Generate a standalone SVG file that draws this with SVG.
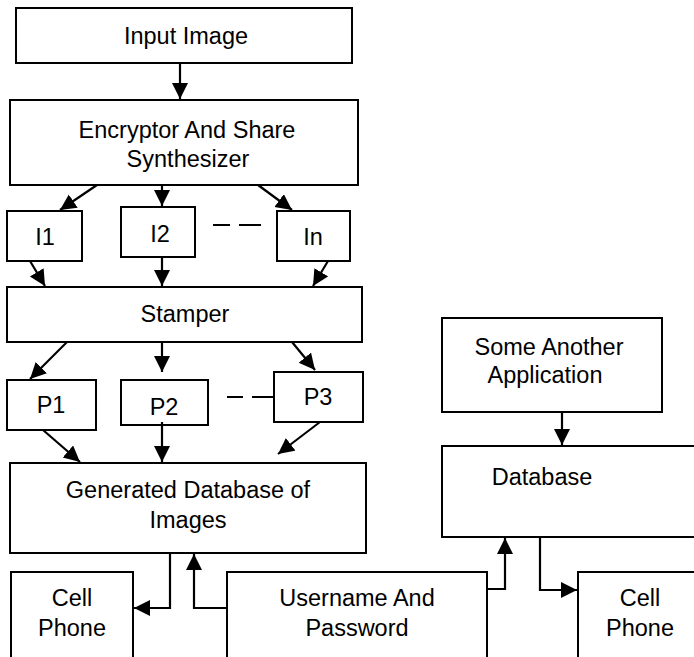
<svg xmlns="http://www.w3.org/2000/svg" width="694" height="657" viewBox="0 0 694 657">
<defs>
<style>
.box{fill:#fff;stroke:#000;stroke-width:2}
.t{font-family:"Liberation Sans",Arial,sans-serif;font-size:23.5px;fill:#000;text-anchor:middle}
.c{fill:none;stroke:#000;stroke-width:2.2}
.d{fill:none;stroke:#000;stroke-width:2}
</style>
<marker id="ah" markerUnits="userSpaceOnUse" markerWidth="18" markerHeight="17" refX="16" refY="8" orient="auto">
<path d="M0,0 L16,8 L0,16 z" fill="#000"/>
</marker>
</defs>
<rect width="694" height="657" fill="#fff"/>
<g id="input-image"><rect class="box" x="16" y="8" width="336" height="55"/><text class="t" x="186" y="44">Input Image</text></g>
<g id="encryptor"><rect class="box" x="10" y="100" width="348" height="85"/><text class="t" x="187" y="138">Encryptor And Share</text><text class="t" x="188" y="167">Synthesizer</text></g>
<g id="i1"><rect class="box" x="7" y="211" width="75" height="50"/><text class="t" x="45" y="245">I1</text></g>
<g id="i2"><rect class="box" x="121" y="207" width="74" height="50"/><text class="t" x="160" y="242">I2</text></g>
<g id="in"><rect class="box" x="277" y="211" width="73" height="50"/><text class="t" x="313" y="245">In</text></g>
<g id="stamper"><rect class="box" x="7" y="287" width="355" height="55"/><text class="t" x="185" y="322">Stamper</text></g>
<g id="p1"><rect class="box" x="7" y="380" width="89" height="50"/><text class="t" x="51" y="413">P1</text></g>
<g id="p2"><rect class="box" x="121" y="380" width="87" height="45"/><text class="t" x="164" y="415">P2</text></g>
<g id="p3"><rect class="box" x="274" y="372" width="89" height="50"/><text class="t" x="318" y="405">P3</text></g>
<g id="generated-db"><rect class="box" x="10" y="463" width="356" height="90"/><text class="t" x="188" y="498">Generated Database of</text><text class="t" x="188" y="528">Images</text></g>
<g id="cell-phone-left"><rect class="box" x="11" y="572" width="122" height="100"/><text class="t" x="72" y="606">Cell</text><text class="t" x="72" y="636">Phone</text></g>
<g id="username"><rect class="box" x="227" y="572" width="260" height="100"/><text class="t" x="357" y="606">Username And</text><text class="t" x="357" y="636">Password</text></g>
<g id="some-another-app"><rect class="box" x="442" y="318" width="220" height="94"/><text class="t" x="549" y="355">Some Another</text><text class="t" x="545" y="383">Application</text></g>
<g id="database"><rect class="box" x="442" y="446" width="270" height="91"/><text class="t" x="542" y="485">Database</text></g>
<g id="cell-phone-right"><rect class="box" x="578" y="572" width="130" height="100"/><text class="t" x="640" y="606">Cell</text><text class="t" x="640" y="636">Phone</text></g>
<g id="connectors">
<line class="c" x1="180" y1="63" x2="180" y2="99" marker-end="url(#ah)"/>
<line class="c" x1="97" y1="185" x2="60" y2="210" marker-end="url(#ah)"/>
<line class="c" x1="162" y1="185" x2="162" y2="206" marker-end="url(#ah)"/>
<line class="c" x1="258" y1="185" x2="292" y2="210" marker-end="url(#ah)"/>
<line class="c" x1="30" y1="261" x2="45" y2="286" marker-end="url(#ah)"/>
<line class="c" x1="162" y1="257" x2="162" y2="286" marker-end="url(#ah)"/>
<line class="c" x1="328" y1="261" x2="313" y2="286" marker-end="url(#ah)"/>
<line class="c" x1="67" y1="342" x2="30" y2="379" marker-end="url(#ah)"/>
<line class="c" x1="162" y1="342" x2="162" y2="372" marker-end="url(#ah)"/>
<line class="c" x1="292" y1="342" x2="315" y2="370" marker-end="url(#ah)"/>
<line class="c" x1="43" y1="430" x2="80" y2="462" marker-end="url(#ah)"/>
<line class="c" x1="162" y1="422" x2="162" y2="462" marker-end="url(#ah)"/>
<line class="c" x1="320" y1="422" x2="278" y2="454" marker-end="url(#ah)"/>
<polyline class="c" points="170,553 170,608 134,608" marker-end="url(#ah)"/>
<polyline class="c" points="228,608 194,608 194,554" marker-end="url(#ah)"/>
<polyline class="c" points="487,589 505,589 505,538" marker-end="url(#ah)"/>
<line class="c" x1="562" y1="412" x2="562" y2="445" marker-end="url(#ah)"/>
<polyline class="c" points="540,537 540,590 577,590" marker-end="url(#ah)"/>
<line class="d" x1="213" y1="225" x2="230" y2="225"/>
<line class="d" x1="239" y1="225" x2="261" y2="225"/>
<line class="d" x1="227" y1="397" x2="243" y2="397"/>
<line class="d" x1="252" y1="397" x2="274" y2="397"/>
</g>
</svg>
